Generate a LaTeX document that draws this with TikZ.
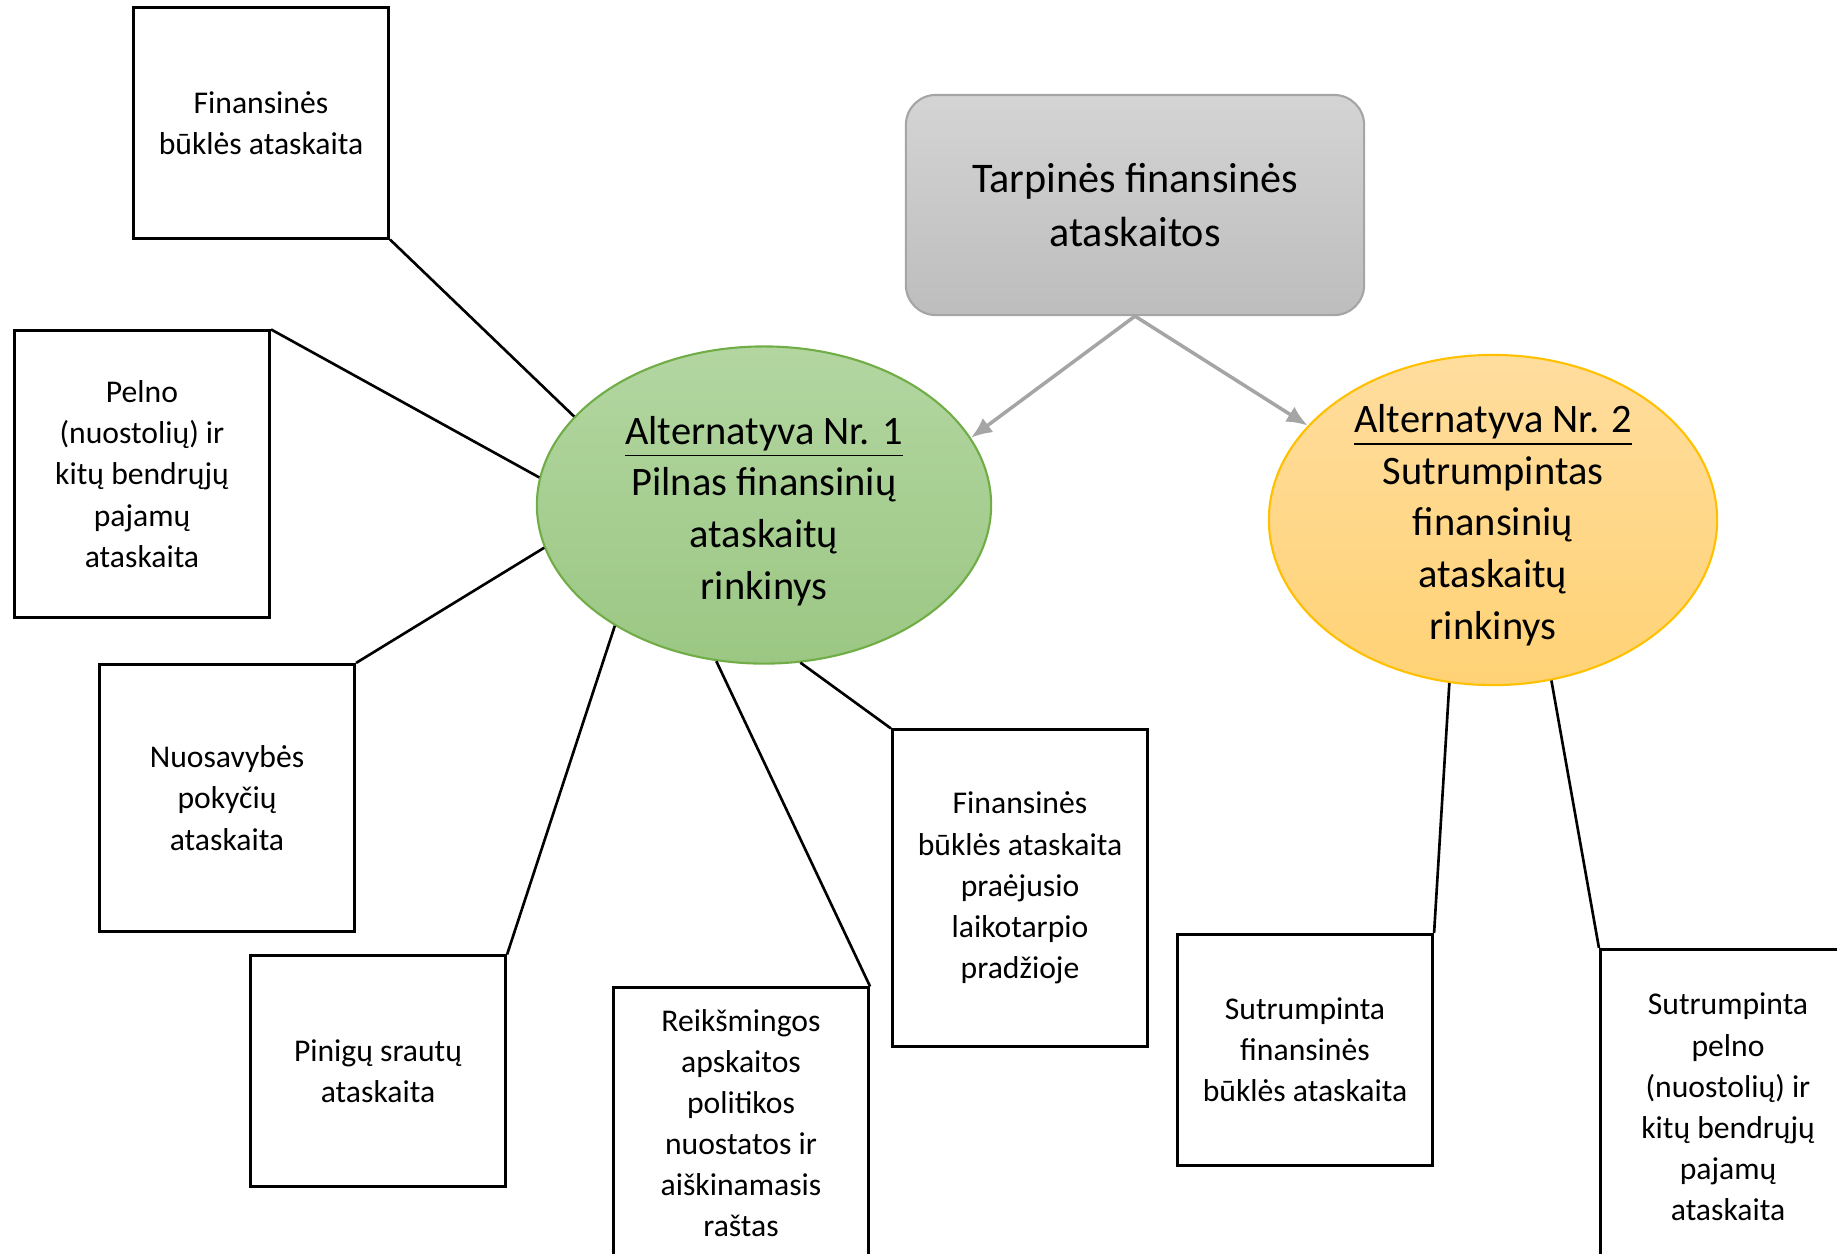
\documentclass[tikz,border=0pt]{standalone}
\usepackage{fontspec}
\setmainfont{Carlito}
\usetikzlibrary{shapes,arrows.meta}
\definecolor{greentop}{HTML}{B3D6A1}
\definecolor{greenbot}{HTML}{9BC783}
\definecolor{greenline}{HTML}{70AD47}
\definecolor{orangetop}{HTML}{FFDD9E}
\definecolor{orangebot}{HTML}{FFD275}
\definecolor{orangeline}{HTML}{FFC000}
\definecolor{graytop}{HTML}{D4D4D4}
\definecolor{graybot}{HTML}{BDBDBD}
\definecolor{grayline}{HTML}{A5A5A5}
\tikzstyle{block} = [rectangle, draw, line width=0.85pt, align=center, text centered, minimum width=2.55cm, inner sep=0pt, font=\fontsize{9}{11.7}\selectfont]
\tikzstyle{title} = [rectangle, draw=grayline, line width=0.6pt, top color=graytop, bottom color=graybot, rounded corners=0.3cm, align=center, minimum width=4.58cm, minimum height=2.2cm, font=\fontsize{12}{15.3}\selectfont]
\tikzstyle{alt} = [ellipse, line width=0.6pt, align=center, inner sep=-1cm, font=\fontsize{11.5}{14.7}\selectfont]
\tikzstyle{line} = [draw, line width=0.75pt]
\tikzstyle{arrow} = [draw, -{Latex[length=6pt,width=5pt]}, line width=1pt, grayline]

\begin{document}
\begin{tikzpicture}[x=0.01cm, y=-0.01cm]
		\useasboundingbox (0,0) rectangle (1837,1253);
		\node [title] (tarpines) at (1135,205) {Tarpinės finansinės\\ataskaitos};
		\node [alt, draw=greenline, top color=greentop, bottom color=greenbot, minimum width=4.54cm, minimum height=3.17cm] (alt1) at (764,505) {\rule{0pt}{11.3pt}\underline{Alternatyva Nr. 1}\\Pilnas finansinių\\ataskaitų\\rinkinys};
		\node [alt, draw=orangeline, top color=orangetop, bottom color=orangebot, minimum width=4.48cm, minimum height=3.3cm] (alt2) at (1493,520) {\rule{0pt}{10.8pt}\underline{Alternatyva Nr. 2}\\Sutrumpintas\\finansinių\\ataskaitų\\rinkinys};

		\node [block, minimum height=2.30cm] (finbukle) at (261,123) {Finansinės\\būklės ataskaita};
		\node [block, minimum height=2.86cm] (pelnas) at (142,474) {Pelno\\(nuostolių) ir\\kitų bendrųjų\\pajamų\\ataskaita};
		\node [block, minimum height=2.67cm] (nuosavybe) at (227,798) {Nuosavybės\\pokyčių\\ataskaita};
		\node [block, minimum height=2.30cm] (pinigai) at (378,1071) {Pinigų srautų\\ataskaita};
		\node [block, minimum height=2.70cm] (politika) at (741,1123) {Reikšmingos\\apskaitos\\politikos\\nuostatos ir\\aiškinamasis\\raštas};
		\node [block, minimum height=3.16cm] (pradzia) at (1020,888) {Finansinės\\būklės ataskaita\\praėjusio\\laikotarpio\\pradžioje};
		\node [block, minimum height=2.31cm] (trumpbukle) at (1305,1050) {Sutrumpinta\\finansinės\\būklės ataskaita};
		\node [block, minimum height=3.15cm] (trumppelnas) at (1728,1107) {Sutrumpinta\\pelno\\(nuostolių) ir\\kitų bendrųjų\\pajamų\\ataskaita};

		\path [arrow] (tarpines.south) -- (alt1.18.5);
		\path [arrow] (tarpines.south) -- (alt2.153);
		\path [line] (finbukle.south east) -- (alt1.155.7);
		\path [line] (pelnas.north east) -- (alt1.173.2);
		\path [line] (nuosavybe.north east) -- (alt1.191.7);
		\path [line] (pinigai.north east) -- (alt1.219);
		\path [line] (politika.north east) -- (alt1.253.6);
		\path [line] (pradzia.north west) -- (alt1.283.2);
		\path [line] (trumpbukle.north east) -- (alt2.255.2);
		\path [line] (trumppelnas.north west) -- (alt2.290.6);
	\end{tikzpicture}
\end{document}
